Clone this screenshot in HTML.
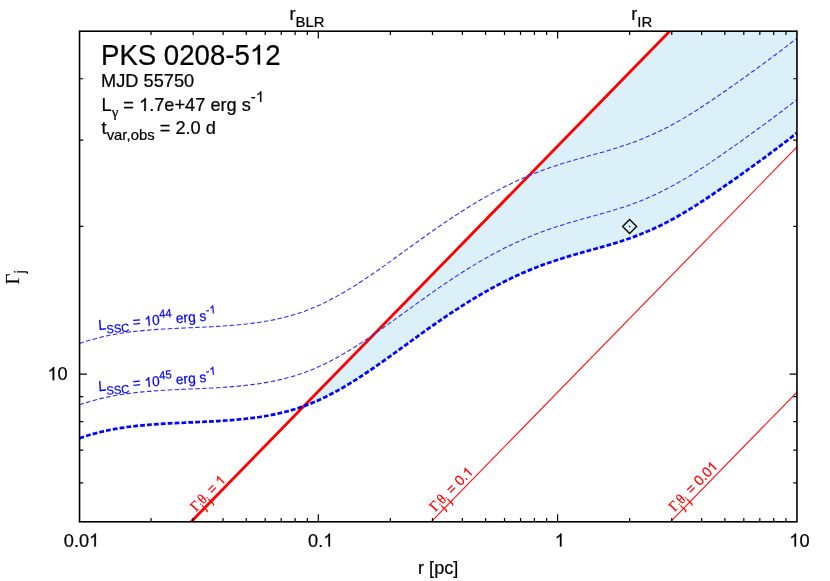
<!DOCTYPE html>
<html><head><meta charset="utf-8"><title>PKS 0208-512</title>
<style>
html,body{margin:0;padding:0;background:#fff;}
body{width:830px;height:581px;overflow:hidden;}
svg{display:block;will-change:transform;}
text{font-family:"Liberation Sans",sans-serif;fill:#000;stroke:#000;stroke-width:0.22;}
.t18{font-size:18.2px;}
.sy{font-family:"Liberation Serif",serif;}
.o{fill:none;stroke:none;}
.rl{font-size:13.8px;fill:#ff0000;stroke:#ff0000;stroke-width:0.2;}
.rl .sb{font-size:11px;}
.bl{font-size:13.7px;fill:#0000f0;stroke:#0000f0;stroke-width:0.2;}
.bl .sb{font-size:11.2px;}
</style></head><body>
<svg width="830" height="581" viewBox="0 0 830 581">
<rect x="0" y="0" width="830" height="581" fill="#fff"/>
<defs><clipPath id="cp"><rect x="79.55" y="31.2" width="717.4000000000001" height="490.55"/></clipPath></defs>
<g clip-path="url(#cp)">
<path d="M303.8,406.2 L669.7,31.2 L797.0,31.2 L797.0,133.1 L796.8,133.1 L794.8,134.7 L792.8,136.2 L790.8,137.8 L788.8,139.3 L786.8,140.9 L784.8,142.4 L782.8,143.9 L780.8,145.4 L778.8,147.0 L776.8,148.5 L774.8,150.0 L772.8,151.5 L770.8,152.9 L768.8,154.4 L766.8,155.9 L764.8,157.4 L762.8,158.9 L760.8,160.3 L758.8,161.8 L756.8,163.2 L754.8,164.7 L752.8,166.1 L750.8,167.6 L748.8,169.0 L746.8,170.5 L744.8,171.9 L742.8,173.3 L740.8,174.8 L738.8,176.2 L736.8,177.6 L734.8,179.0 L732.8,180.5 L730.8,181.9 L728.8,183.3 L726.8,184.7 L724.8,186.1 L722.8,187.5 L720.8,188.8 L718.8,190.2 L716.8,191.6 L714.8,192.9 L712.8,194.3 L710.8,195.7 L708.8,197.0 L706.8,198.3 L704.8,199.7 L702.8,201.0 L700.8,202.3 L698.8,203.6 L696.8,204.8 L694.8,206.1 L692.8,207.4 L690.8,208.6 L688.8,209.8 L686.8,211.1 L684.8,212.3 L682.8,213.4 L680.8,214.6 L678.8,215.8 L676.8,216.9 L674.8,218.0 L672.8,219.1 L670.8,220.2 L668.8,221.2 L666.8,222.3 L664.8,223.3 L662.8,224.3 L660.8,225.3 L658.8,226.3 L656.8,227.2 L654.8,228.2 L652.8,229.1 L650.8,230.0 L648.8,230.9 L646.8,231.7 L644.8,232.6 L642.8,233.4 L640.8,234.2 L638.8,235.0 L636.8,235.7 L634.8,236.5 L632.8,237.2 L630.8,238.0 L628.8,238.7 L626.8,239.4 L624.8,240.0 L622.8,240.7 L620.8,241.4 L618.8,242.0 L616.8,242.6 L614.8,243.2 L612.8,243.8 L610.8,244.4 L608.8,245.0 L606.8,245.6 L604.8,246.2 L602.8,246.8 L600.8,247.3 L598.8,247.9 L596.8,248.4 L594.8,249.0 L592.8,249.5 L590.8,250.1 L588.8,250.7 L586.8,251.2 L584.8,251.8 L582.8,252.3 L580.8,252.9 L578.8,253.4 L576.8,254.0 L574.8,254.6 L572.8,255.2 L570.8,255.8 L568.8,256.4 L566.8,257.0 L564.8,257.6 L562.8,258.2 L560.8,258.8 L558.8,259.5 L556.8,260.1 L554.8,260.8 L552.8,261.4 L550.8,262.1 L548.8,262.8 L546.8,263.5 L544.8,264.2 L542.8,264.9 L540.8,265.7 L538.8,266.4 L536.8,267.2 L534.8,268.0 L532.8,268.8 L530.8,269.6 L528.8,270.4 L526.8,271.2 L524.8,272.1 L522.8,273.0 L520.8,273.8 L518.8,274.7 L516.8,275.6 L514.8,276.6 L512.8,277.5 L510.8,278.5 L508.8,279.4 L506.8,280.4 L504.8,281.4 L502.8,282.4 L500.8,283.4 L498.8,284.5 L496.8,285.5 L494.8,286.6 L492.8,287.7 L490.8,288.7 L488.8,289.9 L486.8,291.0 L484.8,292.1 L482.8,293.2 L480.8,294.4 L478.8,295.6 L476.8,296.8 L474.8,298.0 L472.8,299.2 L470.8,300.4 L468.8,301.6 L466.8,302.9 L464.8,304.1 L462.8,305.4 L460.8,306.7 L458.8,308.0 L456.8,309.3 L454.8,310.6 L452.8,311.9 L450.8,313.2 L448.8,314.5 L446.8,315.9 L444.8,317.2 L442.8,318.6 L440.8,320.0 L438.8,321.4 L436.8,322.7 L434.8,324.1 L432.8,325.5 L430.8,326.9 L428.8,328.4 L426.8,329.8 L424.8,331.2 L422.8,332.6 L420.8,334.1 L418.8,335.5 L416.8,336.9 L414.8,338.4 L412.8,339.8 L410.8,341.3 L408.8,342.7 L406.8,344.2 L404.8,345.6 L402.8,347.1 L400.8,348.5 L398.8,350.0 L396.8,351.4 L394.8,352.9 L392.8,354.3 L390.8,355.7 L388.8,357.2 L386.8,358.6 L384.8,360.0 L382.8,361.4 L380.8,362.9 L378.8,364.3 L376.8,365.7 L374.8,367.0 L372.8,368.4 L370.8,369.8 L368.8,371.2 L366.8,372.5 L364.8,373.8 L362.8,375.2 L360.8,376.5 L358.8,377.8 L356.8,379.1 L354.8,380.3 L352.8,381.6 L350.8,382.8 L348.8,384.0 L346.8,385.2 L344.8,386.4 L342.8,387.6 L340.8,388.8 L338.8,389.9 L336.8,391.0 L334.8,392.1 L332.8,393.2 L330.8,394.2 L328.8,395.2 L326.8,396.2 L324.8,397.2 L322.8,398.2 L320.8,399.1 L318.8,400.0 L316.8,400.9 L314.8,401.8 L312.8,402.6 L310.8,403.5 L308.8,404.3 L306.8,405.0 L304.8,405.8Z" fill="#dbf0f9" stroke="none"/>
<line x1="191.1" y1="521.8" x2="669.7" y2="31.2" stroke="#ff0000" stroke-width="2.85"/>
<line x1="431.2" y1="521.8" x2="797.0" y2="146.9" stroke="#ff1414" stroke-width="1.15"/>
<line x1="670.5" y1="521.8" x2="797.0" y2="392.1" stroke="#ff1414" stroke-width="1.15"/>
<path d="M79.5,343.5 L82.5,342.5 L85.5,341.5 L88.5,340.6 L91.5,339.7 L94.5,338.9 L97.5,338.1 L100.5,337.3 L103.5,336.6 L106.5,336.0 L109.5,335.3 L112.5,334.8 L115.5,334.2 L118.5,333.7 L121.5,333.2 L124.5,332.8 L127.5,332.3 L130.6,331.9 L133.6,331.6 L136.6,331.2 L139.6,330.9 L142.6,330.6 L145.6,330.3 L148.6,330.1 L151.6,329.8 L154.6,329.6 L157.6,329.4 L160.6,329.2 L163.6,329.0 L166.6,328.8 L169.6,328.7 L172.6,328.5 L175.6,328.4 L178.6,328.2 L181.6,328.1 L184.6,328.0 L187.6,327.8 L190.6,327.7 L193.6,327.6 L196.6,327.4 L199.6,327.3 L202.6,327.2 L205.6,327.0 L208.6,326.9 L211.6,326.7 L214.6,326.6 L217.6,326.4 L220.6,326.2 L223.6,326.0 L226.6,325.8 L229.6,325.6 L232.6,325.3 L235.6,325.1 L238.6,324.8 L241.6,324.5 L244.6,324.2 L247.6,323.8 L250.6,323.5 L253.6,323.1 L256.6,322.7 L259.6,322.3 L262.6,321.8 L265.6,321.3 L268.6,320.8 L271.6,320.2 L274.6,319.6 L277.6,319.0 L280.6,318.3 L283.6,317.6 L286.6,316.8 L289.6,316.0 L292.6,315.1 L295.6,314.2 L298.6,313.3 L301.6,312.2 L304.6,311.2 L307.6,310.0 L310.6,308.9 L313.6,307.6 L316.6,306.3 L319.6,305.0 L322.6,303.6 L325.6,302.2 L328.6,300.7 L331.6,299.1 L334.6,297.5 L337.6,295.9 L340.6,294.2 L343.6,292.5 L346.6,290.7 L349.6,288.9 L352.6,287.0 L355.6,285.2 L358.6,283.2 L361.6,281.3 L364.6,279.3 L367.6,277.3 L370.6,275.3 L373.6,273.2 L376.6,271.1 L379.6,269.0 L382.6,266.9 L385.6,264.8 L388.6,262.6 L391.6,260.5 L394.6,258.3 L397.6,256.2 L400.6,254.0 L403.6,251.8 L406.6,249.6 L409.6,247.5 L412.6,245.3 L415.6,243.1 L418.6,241.0 L421.6,238.8 L424.6,236.7 L427.6,234.5 L430.6,232.4 L433.6,230.3 L436.6,228.2 L439.6,226.1 L442.6,224.1 L445.6,222.0 L448.6,220.0 L451.6,218.0 L454.6,216.0 L457.6,214.1 L460.6,212.1 L463.6,210.2 L466.6,208.3 L469.6,206.5 L472.6,204.6 L475.6,202.8 L478.6,201.0 L481.6,199.3 L484.6,197.5 L487.6,195.9 L490.6,194.2 L493.6,192.5 L496.6,190.9 L499.6,189.4 L502.6,187.8 L505.6,186.3 L508.6,184.8 L511.6,183.4 L514.5,182.0 L517.5,180.6 L520.5,179.3 L523.5,177.9 L526.5,176.7 L529.5,175.4 L532.5,174.2 L535.5,173.0 L538.5,171.8 L541.5,170.7 L544.5,169.6 L547.5,168.5 L550.5,167.5 L553.5,166.5 L556.5,165.5 L559.5,164.5 L562.5,163.6 L565.5,162.6 L568.5,161.7 L571.5,160.8 L574.5,160.0 L577.5,159.1 L580.5,158.3 L583.5,157.4 L586.5,156.6 L589.5,155.7 L592.5,154.9 L595.5,154.1 L598.5,153.2 L601.5,152.4 L604.5,151.6 L607.5,150.7 L610.5,149.8 L613.5,148.9 L616.5,148.0 L619.5,147.1 L622.5,146.1 L625.5,145.1 L628.5,144.1 L631.5,143.0 L634.5,141.9 L637.5,140.8 L640.5,139.6 L643.5,138.4 L646.5,137.1 L649.5,135.8 L652.5,134.5 L655.5,133.1 L658.5,131.7 L661.5,130.2 L664.5,128.7 L667.5,127.2 L670.5,125.6 L673.5,124.0 L676.5,122.3 L679.5,120.6 L682.5,118.9 L685.5,117.1 L688.5,115.3 L691.5,113.5 L694.5,111.6 L697.5,109.7 L700.5,107.7 L703.5,105.8 L706.5,103.8 L709.5,101.8 L712.5,99.8 L715.5,97.7 L718.5,95.7 L721.5,93.6 L724.5,91.5 L727.5,89.4 L730.5,87.3 L733.5,85.2 L736.5,83.1 L739.5,81.0 L742.5,78.8 L745.5,76.7 L748.5,74.5 L751.5,72.3 L754.5,70.2 L757.5,68.0 L760.5,65.8 L763.5,63.6 L766.5,61.4 L769.5,59.2 L772.5,56.9 L775.5,54.7 L778.5,52.4 L781.5,50.2 L784.5,47.9 L787.5,45.6 L790.5,43.3 L793.5,40.9 L796.5,38.6 L797.0,38.3" fill="none" stroke="#2a2aff" stroke-width="1.08" stroke-dasharray="4.5 2.4"/>
<path d="M79.5,404.8 L82.5,403.8 L85.5,402.8 L88.5,401.9 L91.5,401.0 L94.5,400.2 L97.5,399.4 L100.5,398.6 L103.5,397.9 L106.5,397.3 L109.5,396.6 L112.5,396.1 L115.5,395.5 L118.5,395.0 L121.5,394.5 L124.5,394.1 L127.5,393.6 L130.6,393.2 L133.6,392.9 L136.6,392.5 L139.6,392.2 L142.6,391.9 L145.6,391.6 L148.6,391.4 L151.6,391.1 L154.6,390.9 L157.6,390.7 L160.6,390.5 L163.6,390.3 L166.6,390.1 L169.6,390.0 L172.6,389.8 L175.6,389.7 L178.6,389.5 L181.6,389.4 L184.6,389.3 L187.6,389.1 L190.6,389.0 L193.6,388.9 L196.6,388.7 L199.6,388.6 L202.6,388.5 L205.6,388.3 L208.6,388.2 L211.6,388.0 L214.6,387.9 L217.6,387.7 L220.6,387.5 L223.6,387.3 L226.6,387.1 L229.6,386.9 L232.6,386.6 L235.6,386.4 L238.6,386.1 L241.6,385.8 L244.6,385.5 L247.6,385.1 L250.6,384.8 L253.6,384.4 L256.6,384.0 L259.6,383.6 L262.6,383.1 L265.6,382.6 L268.6,382.1 L271.6,381.5 L274.6,380.9 L277.6,380.3 L280.6,379.6 L283.6,378.9 L286.6,378.1 L289.6,377.3 L292.6,376.4 L295.6,375.5 L298.6,374.6 L301.6,373.5 L304.6,372.5 L307.6,371.3 L310.6,370.2 L313.6,368.9 L316.6,367.6 L319.6,366.3 L322.6,364.9 L325.6,363.5 L328.6,362.0 L331.6,360.4 L334.6,358.8 L337.6,357.2 L340.6,355.5 L343.6,353.8 L346.6,352.0 L349.6,350.2 L352.6,348.3 L355.6,346.5 L358.6,344.5 L361.6,342.6 L364.6,340.6 L367.6,338.6 L370.6,336.6 L373.6,334.5 L376.6,332.4 L379.6,330.3 L382.6,328.2 L385.6,326.1 L388.6,323.9 L391.6,321.8 L394.6,319.6 L397.6,317.5 L400.6,315.3 L403.6,313.1 L406.6,310.9 L409.6,308.8 L412.6,306.6 L415.6,304.4 L418.6,302.3 L421.6,300.1 L424.6,298.0 L427.6,295.8 L430.6,293.7 L433.6,291.6 L436.6,289.5 L439.6,287.4 L442.6,285.4 L445.6,283.3 L448.6,281.3 L451.6,279.3 L454.6,277.3 L457.6,275.4 L460.6,273.4 L463.6,271.5 L466.6,269.6 L469.6,267.8 L472.6,265.9 L475.6,264.1 L478.6,262.3 L481.6,260.6 L484.6,258.8 L487.6,257.2 L490.6,255.5 L493.6,253.8 L496.6,252.2 L499.6,250.7 L502.6,249.1 L505.6,247.6 L508.6,246.1 L511.6,244.7 L514.5,243.3 L517.5,241.9 L520.5,240.6 L523.5,239.2 L526.5,238.0 L529.5,236.7 L532.5,235.5 L535.5,234.3 L538.5,233.1 L541.5,232.0 L544.5,230.9 L547.5,229.8 L550.5,228.8 L553.5,227.8 L556.5,226.8 L559.5,225.8 L562.5,224.9 L565.5,223.9 L568.5,223.0 L571.5,222.1 L574.5,221.3 L577.5,220.4 L580.5,219.6 L583.5,218.7 L586.5,217.9 L589.5,217.0 L592.5,216.2 L595.5,215.4 L598.5,214.5 L601.5,213.7 L604.5,212.9 L607.5,212.0 L610.5,211.1 L613.5,210.2 L616.5,209.3 L619.5,208.4 L622.5,207.4 L625.5,206.4 L628.5,205.4 L631.5,204.3 L634.5,203.2 L637.5,202.1 L640.5,200.9 L643.5,199.7 L646.5,198.4 L649.5,197.1 L652.5,195.8 L655.5,194.4 L658.5,193.0 L661.5,191.5 L664.5,190.0 L667.5,188.5 L670.5,186.9 L673.5,185.3 L676.5,183.6 L679.5,181.9 L682.5,180.2 L685.5,178.4 L688.5,176.6 L691.5,174.8 L694.5,172.9 L697.5,171.0 L700.5,169.0 L703.5,167.1 L706.5,165.1 L709.5,163.1 L712.5,161.1 L715.5,159.0 L718.5,157.0 L721.5,154.9 L724.5,152.8 L727.5,150.7 L730.5,148.6 L733.5,146.5 L736.5,144.4 L739.5,142.3 L742.5,140.1 L745.5,138.0 L748.5,135.8 L751.5,133.6 L754.5,131.5 L757.5,129.3 L760.5,127.1 L763.5,124.9 L766.5,122.7 L769.5,120.5 L772.5,118.2 L775.5,116.0 L778.5,113.7 L781.5,111.5 L784.5,109.2 L787.5,106.9 L790.5,104.6 L793.5,102.2 L796.5,99.9 L797.0,99.6" fill="none" stroke="#2a2aff" stroke-width="1.08" stroke-dasharray="4.5 2.4"/>
<path d="M79.5,438.2 L82.5,437.2 L85.5,436.2 L88.5,435.3 L91.5,434.4 L94.5,433.6 L97.5,432.8 L100.5,432.0 L103.5,431.3 L106.5,430.7 L109.5,430.0 L112.5,429.5 L115.5,428.9 L118.5,428.4 L121.5,427.9 L124.5,427.5 L127.5,427.0 L130.6,426.6 L133.6,426.3 L136.6,425.9 L139.6,425.6 L142.6,425.3 L145.6,425.0 L148.6,424.8 L151.6,424.5 L154.6,424.3 L157.6,424.1 L160.6,423.9 L163.6,423.7 L166.6,423.5 L169.6,423.4 L172.6,423.2 L175.6,423.1 L178.6,422.9 L181.6,422.8 L184.6,422.7 L187.6,422.5 L190.6,422.4 L193.6,422.3 L196.6,422.1 L199.6,422.0 L202.6,421.9 L205.6,421.7 L208.6,421.6 L211.6,421.4 L214.6,421.3 L217.6,421.1 L220.6,420.9 L223.6,420.7 L226.6,420.5 L229.6,420.3 L232.6,420.0 L235.6,419.8 L238.6,419.5 L241.6,419.2 L244.6,418.9 L247.6,418.5 L250.6,418.2 L253.6,417.8 L256.6,417.4 L259.6,417.0 L262.6,416.5 L265.6,416.0 L268.6,415.5 L271.6,414.9 L274.6,414.3 L277.6,413.7 L280.6,413.0 L283.6,412.3 L286.6,411.5 L289.6,410.7 L292.6,409.8 L295.6,408.9 L298.6,408.0 L301.6,406.9 L304.6,405.9 L307.6,404.7 L310.6,403.6 L313.6,402.3 L316.6,401.0 L319.6,399.7 L322.6,398.3 L325.6,396.9 L328.6,395.4 L331.6,393.8 L334.6,392.2 L337.6,390.6 L340.6,388.9 L343.6,387.2 L346.6,385.4 L349.6,383.6 L352.6,381.7 L355.6,379.9 L358.6,377.9 L361.6,376.0 L364.6,374.0 L367.6,372.0 L370.6,370.0 L373.6,367.9 L376.6,365.8 L379.6,363.7 L382.6,361.6 L385.6,359.5 L388.6,357.3 L391.6,355.2 L394.6,353.0 L397.6,350.9 L400.6,348.7 L403.6,346.5 L406.6,344.3 L409.6,342.2 L412.6,340.0 L415.6,337.8 L418.6,335.7 L421.6,333.5 L424.6,331.4 L427.6,329.2 L430.6,327.1 L433.6,325.0 L436.6,322.9 L439.6,320.8 L442.6,318.8 L445.6,316.7 L448.6,314.7 L451.6,312.7 L454.6,310.7 L457.6,308.8 L460.6,306.8 L463.6,304.9 L466.6,303.0 L469.6,301.2 L472.6,299.3 L475.6,297.5 L478.6,295.7 L481.6,294.0 L484.6,292.2 L487.6,290.6 L490.6,288.9 L493.6,287.2 L496.6,285.6 L499.6,284.1 L502.6,282.5 L505.6,281.0 L508.6,279.5 L511.6,278.1 L514.5,276.7 L517.5,275.3 L520.5,274.0 L523.5,272.6 L526.5,271.4 L529.5,270.1 L532.5,268.9 L535.5,267.7 L538.5,266.5 L541.5,265.4 L544.5,264.3 L547.5,263.2 L550.5,262.2 L553.5,261.2 L556.5,260.2 L559.5,259.2 L562.5,258.3 L565.5,257.3 L568.5,256.4 L571.5,255.5 L574.5,254.7 L577.5,253.8 L580.5,253.0 L583.5,252.1 L586.5,251.3 L589.5,250.4 L592.5,249.6 L595.5,248.8 L598.5,247.9 L601.5,247.1 L604.5,246.3 L607.5,245.4 L610.5,244.5 L613.5,243.6 L616.5,242.7 L619.5,241.8 L622.5,240.8 L625.5,239.8 L628.5,238.8 L631.5,237.7 L634.5,236.6 L637.5,235.5 L640.5,234.3 L643.5,233.1 L646.5,231.8 L649.5,230.5 L652.5,229.2 L655.5,227.8 L658.5,226.4 L661.5,224.9 L664.5,223.4 L667.5,221.9 L670.5,220.3 L673.5,218.7 L676.5,217.0 L679.5,215.3 L682.5,213.6 L685.5,211.8 L688.5,210.0 L691.5,208.2 L694.5,206.3 L697.5,204.4 L700.5,202.4 L703.5,200.5 L706.5,198.5 L709.5,196.5 L712.5,194.5 L715.5,192.4 L718.5,190.4 L721.5,188.3 L724.5,186.2 L727.5,184.1 L730.5,182.0 L733.5,179.9 L736.5,177.8 L739.5,175.7 L742.5,173.5 L745.5,171.4 L748.5,169.2 L751.5,167.0 L754.5,164.9 L757.5,162.7 L760.5,160.5 L763.5,158.3 L766.5,156.1 L769.5,153.9 L772.5,151.6 L775.5,149.4 L778.5,147.1 L781.5,144.9 L784.5,142.6 L787.5,140.3 L790.5,138.0 L793.5,135.6 L796.5,133.3 L797.0,133.0" fill="none" stroke="#0000ff" stroke-width="2.75" stroke-dasharray="4.8 2.1"/>
</g>
<!-- marker -->
<path d="M629.6,219.5 L636.6,226.5 L629.6,233.5 L622.6,226.5 Z" fill="none" stroke="#000" stroke-width="1.4"/>
<circle cx="629.6" cy="226.5" r="0.8" fill="#000"/>
<!-- labels on curves -->
<g transform="translate(98.8,330.0) rotate(-5) scale(1,1.045)"><text class="bl" x="0" y="0">L<tspan class="sb" dy="4">SSC</tspan><tspan dy="-4"> = <tspan class="o">1</tspan>0</tspan><tspan class="sb" dy="-6.3">44</tspan><tspan dy="6.3"> erg s</tspan><tspan class="sb" dy="-6.3">-<tspan class="o">1</tspan></tspan></text><path d="M763,0H583V1147Q518,1085 412,1023Q307,961 223,930V1104Q374,1175 487,1276Q600,1377 647,1472H763Z" transform="translate(46.24,0.00) scale(0.00669,-0.00640)" fill="#0000f0" stroke="#0000f0" stroke-width="30"/><path d="M763,0H583V1147Q518,1085 412,1023Q307,961 223,930V1104Q374,1175 487,1276Q600,1377 647,1472H763Z" transform="translate(111.91,-6.30) scale(0.00547,-0.00523)" fill="#0000f0" stroke="#0000f0" stroke-width="37"/></g>
<g transform="translate(98.8,391.3) rotate(-5) scale(1,1.045)"><text class="bl" x="0" y="0">L<tspan class="sb" dy="4">SSC</tspan><tspan dy="-4"> = <tspan class="o">1</tspan>0</tspan><tspan class="sb" dy="-6.3">45</tspan><tspan dy="6.3"> erg s</tspan><tspan class="sb" dy="-6.3">-<tspan class="o">1</tspan></tspan></text><path d="M763,0H583V1147Q518,1085 412,1023Q307,961 223,930V1104Q374,1175 487,1276Q600,1377 647,1472H763Z" transform="translate(46.24,0.00) scale(0.00669,-0.00640)" fill="#0000f0" stroke="#0000f0" stroke-width="30"/><path d="M763,0H583V1147Q518,1085 412,1023Q307,961 223,930V1104Q374,1175 487,1276Q600,1377 647,1472H763Z" transform="translate(111.91,-6.30) scale(0.00547,-0.00523)" fill="#0000f0" stroke="#0000f0" stroke-width="37"/></g>
<g transform="translate(195.9,512.3) rotate(-45.71) scale(1,1.045)"><text class="rl" x="0" y="0"><tspan class="sy">Γ</tspan><tspan class="sb" dy="5.2">j</tspan><tspan class="sy" dy="-5.2">θ</tspan><tspan class="sb" dy="5.2">j</tspan><tspan dy="-5.2" dx="0.9"> = <tspan class="o">1</tspan></tspan></text><path d="M763,0H583V1147Q518,1085 412,1023Q307,961 223,930V1104Q374,1175 487,1276Q600,1377 647,1472H763Z" transform="translate(36.13,0.00) scale(0.00674,-0.00645)" fill="#ff0000" stroke="#ff0000" stroke-width="30"/></g>
<g transform="translate(435.2,512.3) rotate(-45.71) scale(1,1.045)"><text class="rl" x="0" y="0"><tspan class="sy">Γ</tspan><tspan class="sb" dy="5.2">j</tspan><tspan class="sy" dy="-5.2">θ</tspan><tspan class="sb" dy="5.2">j</tspan><tspan dy="-5.2" dx="0.9"> = 0.<tspan class="o">1</tspan></tspan></text><path d="M763,0H583V1147Q518,1085 412,1023Q307,961 223,930V1104Q374,1175 487,1276Q600,1377 647,1472H763Z" transform="translate(47.63,0.00) scale(0.00674,-0.00645)" fill="#ff0000" stroke="#ff0000" stroke-width="30"/></g>
<g transform="translate(674.5,512.3) rotate(-45.71) scale(1,1.045)"><text class="rl" x="0" y="0"><tspan class="sy">Γ</tspan><tspan class="sb" dy="5.2">j</tspan><tspan class="sy" dy="-5.2">θ</tspan><tspan class="sb" dy="5.2">j</tspan><tspan dy="-5.2" dx="0.9"> = 0.0<tspan class="o">1</tspan></tspan></text><path d="M763,0H583V1147Q518,1085 412,1023Q307,961 223,930V1104Q374,1175 487,1276Q600,1377 647,1472H763Z" transform="translate(55.30,0.00) scale(0.00674,-0.00645)" fill="#ff0000" stroke="#ff0000" stroke-width="30"/></g>
<!-- ticks & frame -->
<path d="M151.04,521.75L151.04,518.05 M151.04,31.20L151.04,34.90 M193.18,521.75L193.18,518.05 M193.18,31.20L193.18,34.90 M223.07,521.75L223.07,518.05 M223.07,31.20L223.07,34.90 M246.26,521.75L246.26,518.05 M246.26,31.20L246.26,34.90 M265.21,521.75L265.21,518.05 M265.21,31.20L265.21,34.90 M281.23,521.75L281.23,518.05 M281.23,31.20L281.23,34.90 M295.11,521.75L295.11,518.05 M295.11,31.20L295.11,34.90 M307.35,521.75L307.35,518.05 M307.35,31.20L307.35,34.90 M318.30,521.75L318.30,514.35 M318.30,31.20L318.30,38.60 M390.34,521.75L390.34,518.05 M390.34,31.20L390.34,34.90 M432.48,521.75L432.48,518.05 M432.48,31.20L432.48,34.90 M462.37,521.75L462.37,518.05 M462.37,31.20L462.37,34.90 M485.56,521.75L485.56,518.05 M485.56,31.20L485.56,34.90 M504.51,521.75L504.51,518.05 M504.51,31.20L504.51,34.90 M520.53,521.75L520.53,518.05 M520.53,31.20L520.53,34.90 M534.41,521.75L534.41,518.05 M534.41,31.20L534.41,34.90 M546.65,521.75L546.65,518.05 M546.65,31.20L546.65,34.90 M557.60,521.75L557.60,514.35 M557.60,31.20L557.60,38.60 M629.64,521.75L629.64,518.05 M629.64,31.20L629.64,34.90 M671.78,521.75L671.78,518.05 M671.78,31.20L671.78,34.90 M701.67,521.75L701.67,518.05 M701.67,31.20L701.67,34.90 M724.86,521.75L724.86,518.05 M724.86,31.20L724.86,34.90 M743.81,521.75L743.81,518.05 M743.81,31.20L743.81,34.90 M759.83,521.75L759.83,518.05 M759.83,31.20L759.83,34.90 M773.71,521.75L773.71,518.05 M773.71,31.20L773.71,34.90 M785.95,521.75L785.95,518.05 M785.95,31.20L785.95,34.90 M79.55,482.91L83.25,482.91 M796.95,482.91L793.25,482.91 M79.55,450.07L83.25,450.07 M796.95,450.07L793.25,450.07 M79.55,421.62L83.25,421.62 M796.95,421.62L793.25,421.62 M79.55,396.53L83.25,396.53 M796.95,396.53L793.25,396.53 M79.55,374.08L86.95,374.08 M796.95,374.08L789.55,374.08 M79.55,226.41L83.25,226.41 M796.95,226.41L793.25,226.41 M79.55,140.03L83.25,140.03 M796.95,140.03L793.25,140.03 M79.55,78.74L83.25,78.74 M796.95,78.74L793.25,78.74" stroke="#000" stroke-width="1.2" fill="none"/>
<rect x="79.55" y="31.2" width="717.4" height="490.6" fill="none" stroke="#000" stroke-width="1.6"/>
<!-- tick labels -->
<g transform="translate(81.5,546.5) scale(1,1.045)"><text class="t18" x="0" y="0" text-anchor="middle">0.0<tspan class="o">1</tspan></text><path d="M763,0H583V1147Q518,1085 412,1023Q307,961 223,930V1104Q374,1175 487,1276Q600,1377 647,1472H763Z" transform="translate(7.59,0.00) scale(0.00889,-0.00851)" fill="#000000" stroke="#000000" stroke-width="25"/></g>
<g transform="translate(320.7,546.5) scale(1,1.045)"><text class="t18" x="0" y="0" text-anchor="middle">0.<tspan class="o">1</tspan></text><path d="M763,0H583V1147Q518,1085 412,1023Q307,961 223,930V1104Q374,1175 487,1276Q600,1377 647,1472H763Z" transform="translate(2.53,0.00) scale(0.00889,-0.00851)" fill="#000000" stroke="#000000" stroke-width="25"/></g>
<g transform="translate(559.8,546.5) scale(1,1.045)"><text class="t18" x="0" y="0" text-anchor="middle"><tspan class="o">1</tspan></text><path d="M763,0H583V1147Q518,1085 412,1023Q307,961 223,930V1104Q374,1175 487,1276Q600,1377 647,1472H763Z" transform="translate(-5.06,0.00) scale(0.00889,-0.00851)" fill="#000000" stroke="#000000" stroke-width="25"/></g>
<g transform="translate(799.4,546.5) scale(1,1.045)"><text class="t18" x="0" y="0" text-anchor="middle"><tspan class="o">1</tspan>0</text><path d="M763,0H583V1147Q518,1085 412,1023Q307,961 223,930V1104Q374,1175 487,1276Q600,1377 647,1472H763Z" transform="translate(-10.13,0.00) scale(0.00889,-0.00851)" fill="#000000" stroke="#000000" stroke-width="25"/></g>
<g transform="translate(67.7,380.2) scale(1,1.045)"><text class="t18" x="0" y="0" text-anchor="end"><tspan class="o">1</tspan>0</text><path d="M763,0H583V1147Q518,1085 412,1023Q307,961 223,930V1104Q374,1175 487,1276Q600,1377 647,1472H763Z" transform="translate(-20.26,0.00) scale(0.00889,-0.00851)" fill="#000000" stroke="#000000" stroke-width="25"/></g>
<g transform="translate(438.2,573.6) scale(1,1.045)"><text class="t18" x="0" y="0" text-anchor="middle">r [pc]</text></g>
<g transform="translate(18.7,284.2) rotate(-90)"><text class="t18" x="0" y="0"><tspan class="sy" style="font-size:18.4px">Γ</tspan><tspan dy="6" style="font-size:14.9px">j</tspan></text></g>
<!-- top labels -->
<g transform="translate(289.4,20.3) scale(1,1.045)"><text class="t18" x="0" y="0">r<tspan dy="6" style="font-size:14.9px">BLR</tspan></text></g>
<g transform="translate(631.3,20.3) scale(1,1.045)"><text class="t18" x="0" y="0">r<tspan dy="6" style="font-size:14.9px">IR</tspan></text></g>
<!-- title block -->
<g transform="translate(101,64.6) scale(1,1.045)"><text x="0" y="0" style="font-size:27.6px">PKS 0208-5<tspan class="o">1</tspan>2</text><path d="M763,0H583V1147Q518,1085 412,1023Q307,961 223,930V1104Q374,1175 487,1276Q600,1377 647,1472H763Z" transform="translate(148.79,0.00) scale(0.01348,-0.01290)" fill="#000000" stroke="#000000" stroke-width="16"/></g>
<g transform="translate(101.1,86.6) scale(1,1.045)"><text class="t18" x="0" y="0">MJD 55750</text></g>
<g transform="translate(101.6,111) scale(1,1.045)"><text class="t18" x="0" y="0">L<tspan dy="6" style="font-size:14.9px" class="sy">γ</tspan><tspan dy="-6"> = <tspan class="o">1</tspan>.7e+47 erg s</tspan><tspan dy="-8.7" style="font-size:14.9px">-<tspan class="o">1</tspan></tspan></text><path d="M763,0H583V1147Q518,1085 412,1023Q307,961 223,930V1104Q374,1175 487,1276Q600,1377 647,1472H763Z" transform="translate(37.46,0.00) scale(0.00889,-0.00851)" fill="#000000" stroke="#000000" stroke-width="25"/><path d="M763,0H583V1147Q518,1085 412,1023Q307,961 223,930V1104Q374,1175 487,1276Q600,1377 647,1472H763Z" transform="translate(154.23,-8.70) scale(0.00728,-0.00696)" fill="#000000" stroke="#000000" stroke-width="30"/></g>
<g transform="translate(101.6,134) scale(1,1.045)"><text class="t18" x="0" y="0">t<tspan dy="6" style="font-size:14.9px">var,obs</tspan><tspan dy="-6"> = 2.0 d</tspan></text></g>
</svg>
</body></html>
